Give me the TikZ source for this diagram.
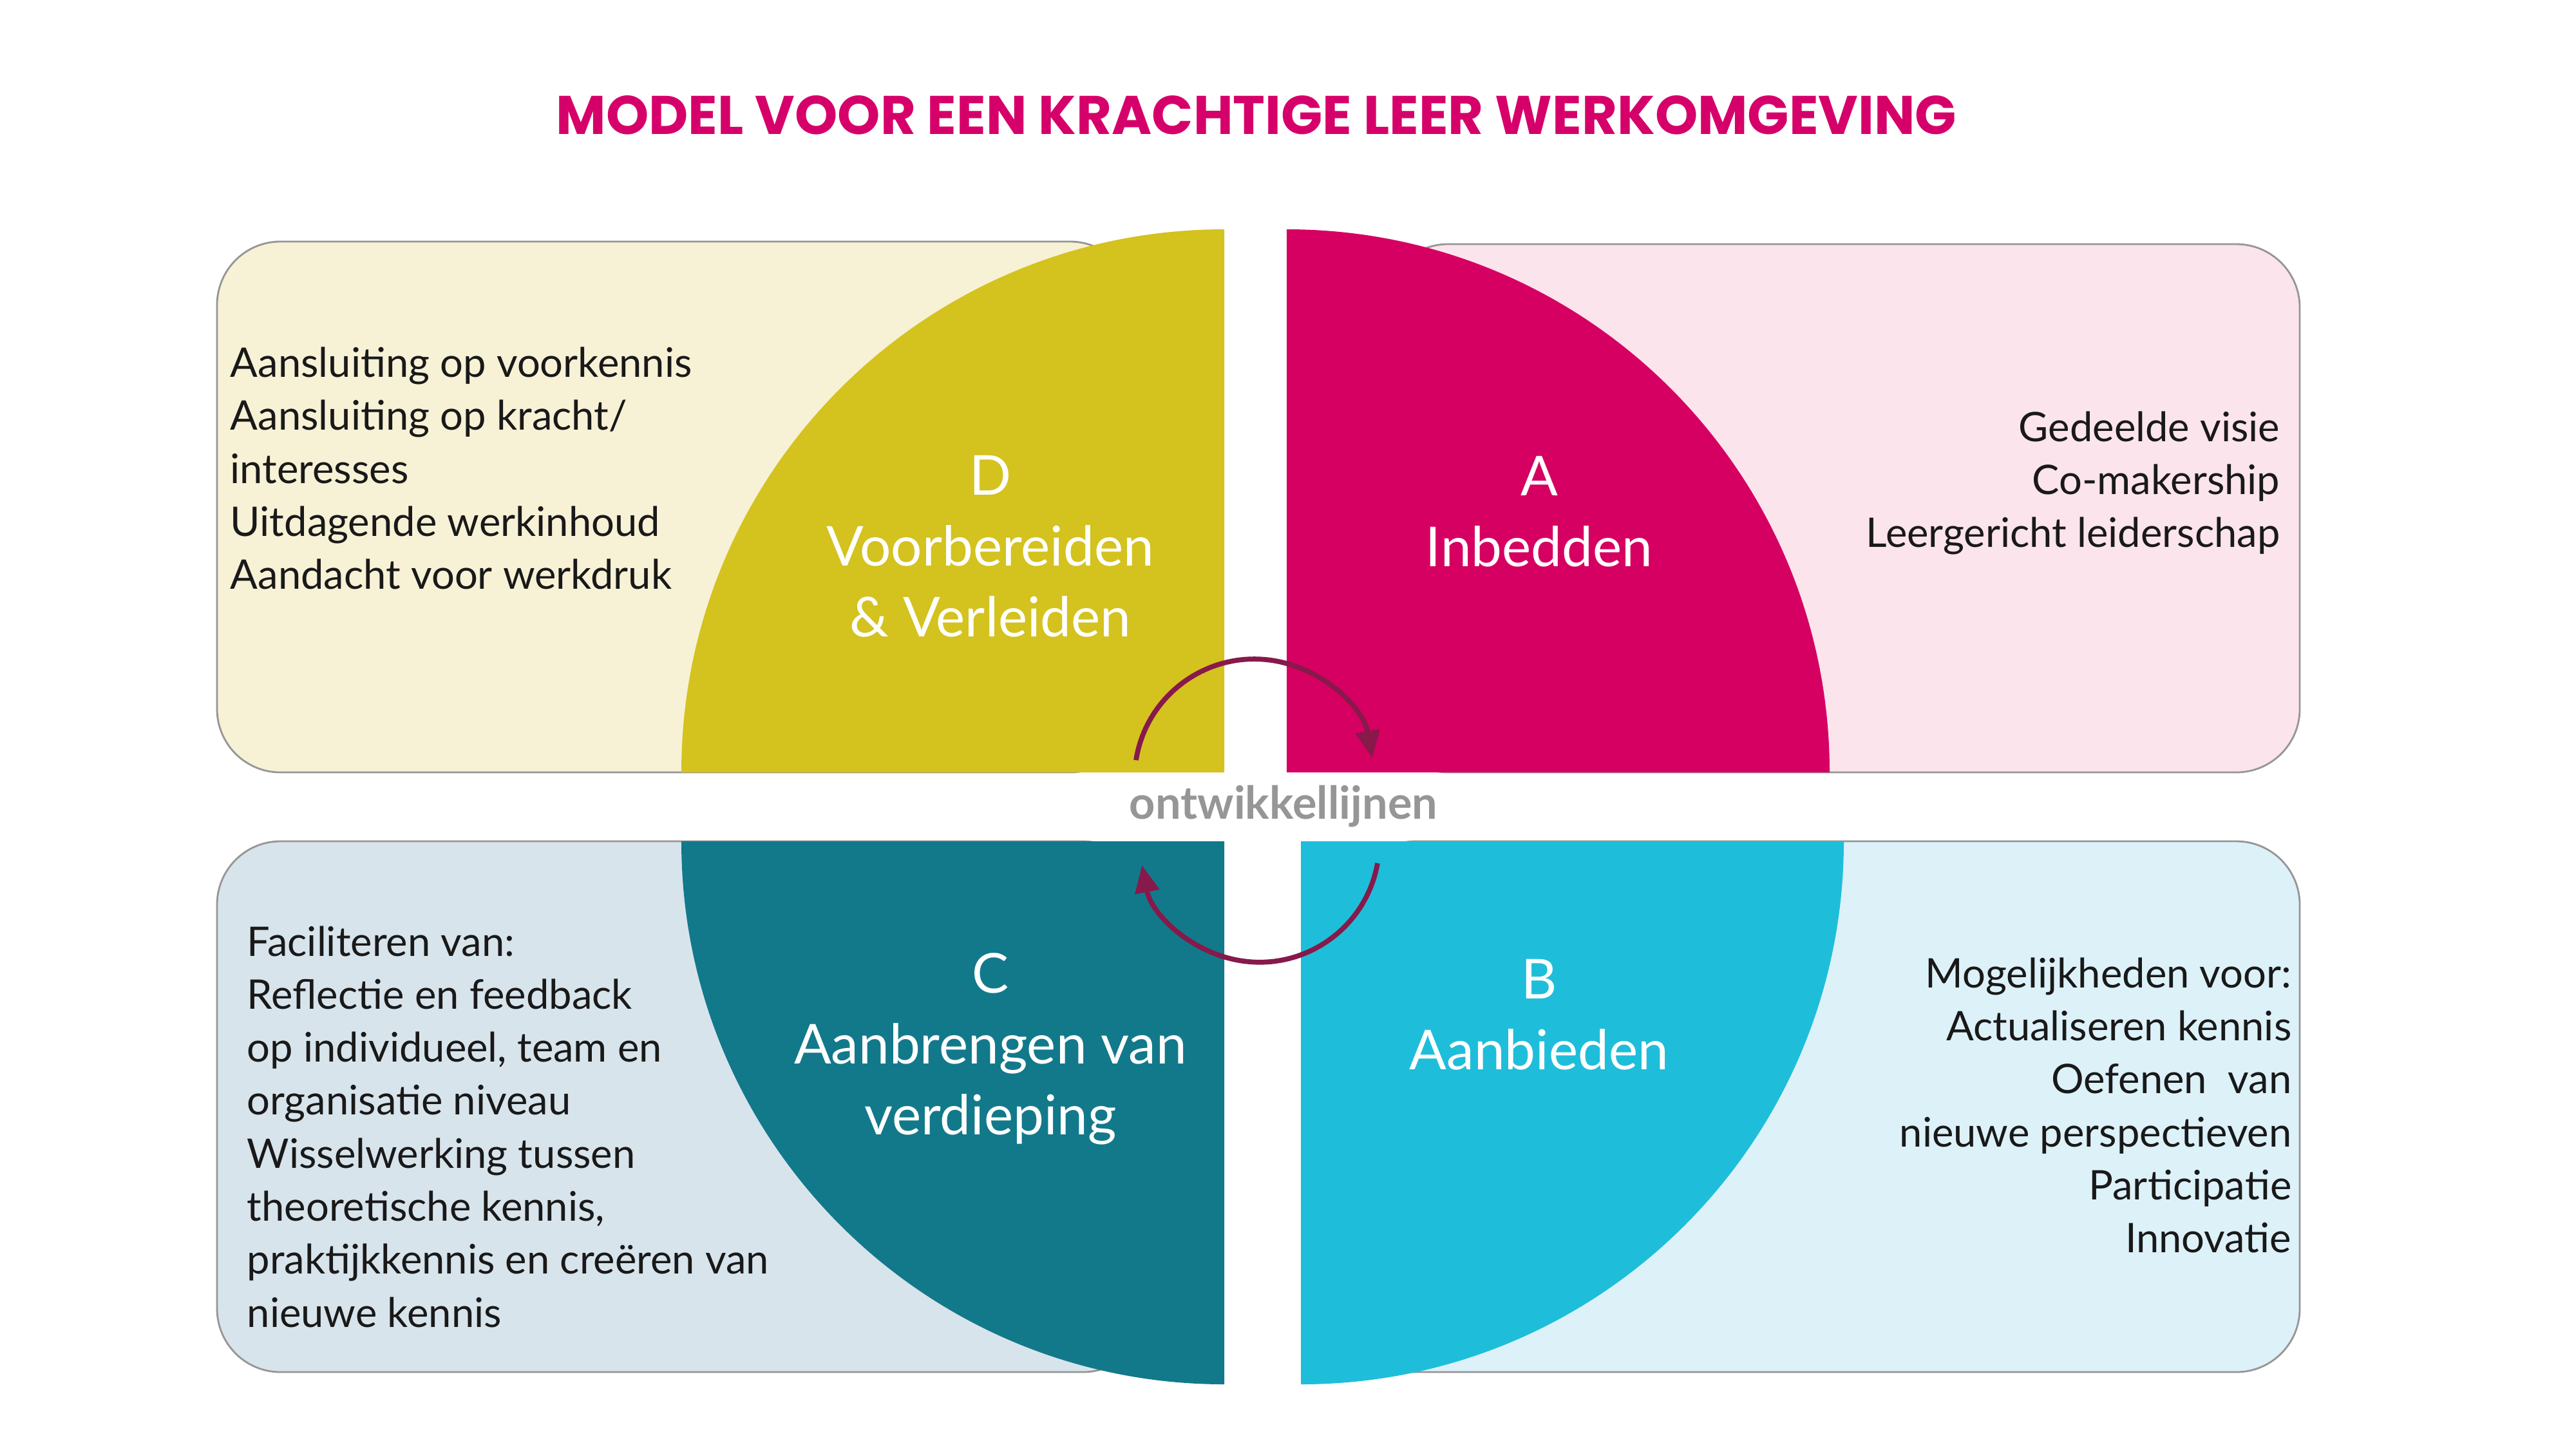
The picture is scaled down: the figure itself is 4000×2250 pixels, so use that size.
\documentclass[tikz,border=0pt]{standalone}
\usepackage{fontspec}
\setmainfont{Lato}
\newfontfamily\titlefont{Poppins}
\usetikzlibrary{arrows.meta}
\definecolor{yellowD}{RGB}{212,194,30}
\definecolor{pinkA}{RGB}{214,0,98}
\definecolor{tealC}{RGB}{18,121,139}
\definecolor{cyanB}{RGB}{30,190,218}
\definecolor{creamBG}{RGB}{247,241,214}
\definecolor{pinkBG}{RGB}{252,228,236}
\definecolor{greyblueBG}{RGB}{216,228,236}
\definecolor{cyanBG}{RGB}{221,241,249}
\definecolor{arrowcol}{RGB}{135,25,75}
\definecolor{titlecol}{RGB}{214,0,106}
\definecolor{midgrey}{RGB}{150,150,150}
\definecolor{bodycol}{RGB}{25,25,25}
\begin{document}
\begin{tikzpicture}[x=0.01cm,y=-0.01cm,
  panel/.style={draw=midgrey,line width=0.8pt,rounded corners=28pt},
  bodytext/.style={font=\fontsize{18}{23.4}\selectfont,text=bodycol,inner sep=0pt},
  labeltext/.style={font=\fontsize{24.3}{31.3}\selectfont,text=white,align=center,inner sep=0pt},
  cyclearrow/.style={draw=arrowcol,line width=2.2pt,-{Triangle[length=12pt,width=10.5pt]}}]
\useasboundingbox[fill=white] (0,0) rectangle (4000,2250);

% title
\node[font=\titlefont\bfseries\fontsize{24}{28}\selectfont,text=titlecol] (title) at (1951,179) {MODEL VOOR EEN KRACHTIGE LEER WERKOMGEVING};

% background panels
\draw[panel,fill=creamBG] (337,375) rectangle (1760,1199);
\draw[panel,fill=pinkBG] (2150,379) rectangle (3571,1199);
\draw[panel,fill=greyblueBG] (337,1306) rectangle (1780,2130);
\draw[panel,fill=cyanBG] (2100,1306) rectangle (3571,2130);

% quarter discs
\fill[yellowD] (1901,1199) -- (1058,1199) arc[start angle=180,end angle=270,radius=843] -- cycle;
\fill[pinkA] (1998,1199) -- (1998,356) arc[start angle=270,end angle=360,radius=843] -- cycle;
\fill[tealC] (1901,1306) -- (1058,1306) arc[start angle=180,end angle=90,radius=843] -- cycle;
\fill[cyanB] (2020,1306) -- (2863,1306) arc[start angle=0,end angle=90,radius=843] -- cycle;

% cycle arrows
\draw[cyclearrow] (1764,1180) arc[start angle=-171,end angle=-10,radius=186];
\draw[cyclearrow] (2139,1340) arc[start angle=10,end angle=169,radius=186];

% centre label
\node[font=\bfseries\fontsize{20}{24}\selectfont,text=midgrey] (ow) at (1993,1252) {ontwikkellijnen};

% quadrant labels
\node[labeltext] (D) at (1538,848) {D\\Voorbereiden\\\& Verleiden};
\node[labeltext] (A) at (2390,794) {A\\Inbedden};
\node[labeltext] (C) at (1538,1628) {C\\Aanbrengen van\\verdieping};
\node[labeltext] (B) at (2390,1575) {B\\Aanbieden};

% panel texts
\node[bodytext,anchor=west,align=left] (tl) at (357,727) {Aansluiting op voorkennis\\Aansluiting op kracht/\\interesses\\Uitdagende werkinhoud\\Aandacht voor werkdruk};
\node[bodytext,anchor=east,align=right] (tr) at (3541,750) {Gedeelde visie\\Co-makership\\Leergericht leiderschap};
\node[bodytext,anchor=west,align=left] (bl) at (383,1749) {Faciliteren van:\\Reflectie en feedback\\op individueel, team en\\organisatie niveau\\Wisselwerking tussen\\theoretische kennis,\\praktijkkennis en creëren van\\nieuwe kennis};
\node[bodytext,anchor=east,align=right] (br) at (3559,1716) {Mogelijkheden voor:\\Actualiseren kennis\\Oefenen\ \ van\\nieuwe perspectieven\\Participatie\\Innovatie};
\end{tikzpicture}
\end{document}
